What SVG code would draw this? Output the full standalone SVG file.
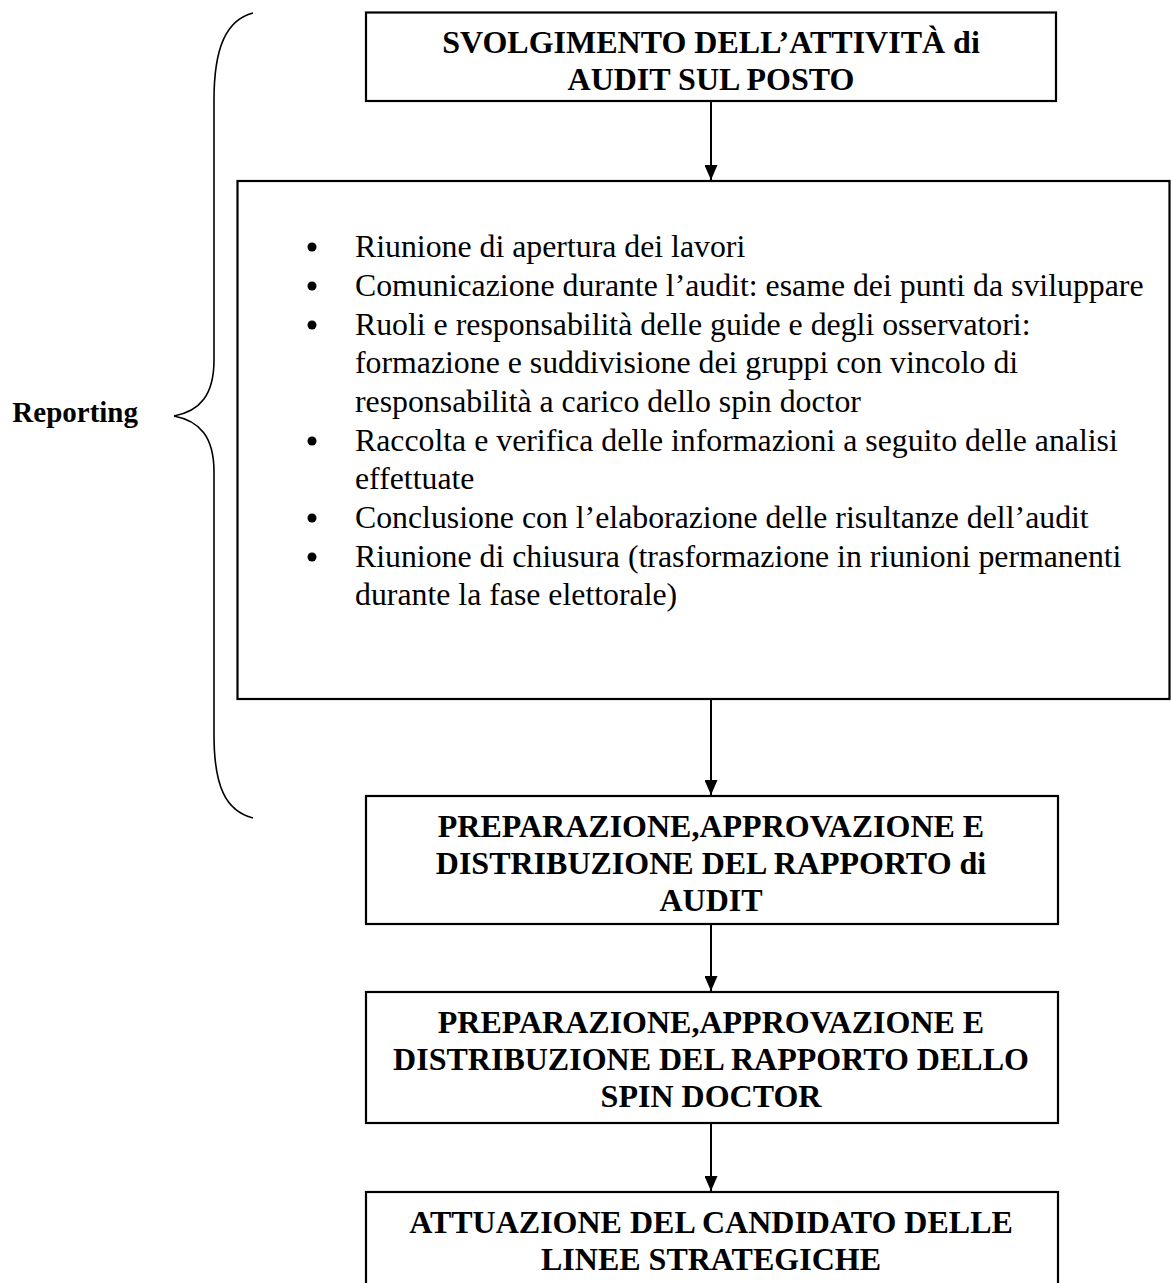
<svg xmlns="http://www.w3.org/2000/svg" width="1171" height="1283" viewBox="0 0 1171 1283">
<defs>
<style>
.box{fill:none;stroke:#000;stroke-width:2.2}
.h{font-family:"Liberation Serif","Times New Roman",serif;font-weight:bold;font-size:32px;fill:#000;text-anchor:middle}
.b{font-family:"Liberation Serif","Times New Roman",serif;font-size:31.8px;fill:#000}
.c{stroke:#000;stroke-width:2;fill:none}
</style>
<marker id="ah" markerWidth="15" markerHeight="13" refX="15" refY="6.5" orient="auto" markerUnits="userSpaceOnUse" viewBox="0 0 15 13">
<path d="M0,0 L15,6.5 L0,13 Z" fill="#000"/>
</marker>
</defs>
<rect width="1171" height="1283" fill="#fff"/>
<g id="brace">
<path d="M253,13 C226,20 214,48 214,100 L214,360 C214,395 200,411 174,416 C200,421 214,437 214,472 L214,735 C214,787 226,811 253,818" fill="none" stroke="#000" stroke-width="1.6"/>
<text x="138" y="422" font-family="Liberation Serif, serif" font-weight="bold" font-size="29" text-anchor="end">Reporting</text>
</g>
<g id="connectors">
<line class="c" x1="711" y1="101" x2="711" y2="180" marker-end="url(#ah)"/>
<line class="c" x1="711" y1="699" x2="711" y2="795" marker-end="url(#ah)"/>
<line class="c" x1="711" y1="924" x2="711" y2="991" marker-end="url(#ah)"/>
<line class="c" x1="711" y1="1123" x2="711" y2="1191" marker-end="url(#ah)"/>
</g>
<g id="n1">
<rect class="box" x="366" y="12.5" width="690" height="88.5"/>
<text class="h" x="711" y="53">SVOLGIMENTO DELL’ATTIVITÀ di</text>
<text class="h" x="711" y="90">AUDIT SUL POSTO</text>
</g>
<g id="n2">
<rect class="box" x="237.5" y="181" width="932" height="518"/>
<g fill="#000">
<circle cx="312" cy="247" r="4.5"/>
<circle cx="312" cy="286" r="4.5"/>
<circle cx="312" cy="325" r="4.5"/>
<circle cx="312" cy="441" r="4.5"/>
<circle cx="312" cy="518" r="4.5"/>
<circle cx="312" cy="557" r="4.5"/>
</g>
<text class="b" x="355" y="257">Riunione di apertura dei lavori</text>
<text class="b" x="355" y="296">Comunicazione durante l’audit: esame dei punti da sviluppare</text>
<text class="b" x="355" y="335">Ruoli e responsabilità delle guide e degli osservatori:</text>
<text class="b" x="355" y="373">formazione e suddivisione dei gruppi con vincolo di</text>
<text class="b" x="355" y="412">responsabilità a carico dello spin doctor</text>
<text class="b" x="355" y="451">Raccolta e verifica delle informazioni a seguito delle analisi</text>
<text class="b" x="355" y="489">effettuate</text>
<text class="b" x="355" y="528">Conclusione con l’elaborazione delle risultanze dell’audit</text>
<text class="b" x="355" y="567">Riunione di chiusura (trasformazione in riunioni permanenti</text>
<text class="b" x="355" y="605">durante la fase elettorale)</text>
</g>
<g id="n3">
<rect class="box" x="366" y="796" width="692" height="128"/>
<text class="h" x="711" y="837">PREPARAZIONE,APPROVAZIONE E</text>
<text class="h" x="711" y="874">DISTRIBUZIONE DEL RAPPORTO di</text>
<text class="h" x="711" y="911">AUDIT</text>
</g>
<g id="n4">
<rect class="box" x="366" y="992" width="692" height="131"/>
<text class="h" x="711" y="1033">PREPARAZIONE,APPROVAZIONE E</text>
<text class="h" x="711" y="1070">DISTRIBUZIONE DEL RAPPORTO DELLO</text>
<text class="h" x="711" y="1107">SPIN DOCTOR</text>
</g>
<g id="n5">
<rect class="box" x="366" y="1192" width="692" height="100"/>
<text class="h" x="711" y="1233">ATTUAZIONE DEL CANDIDATO DELLE</text>
<text class="h" x="711" y="1270">LINEE STRATEGICHE</text>
</g>
</svg>
